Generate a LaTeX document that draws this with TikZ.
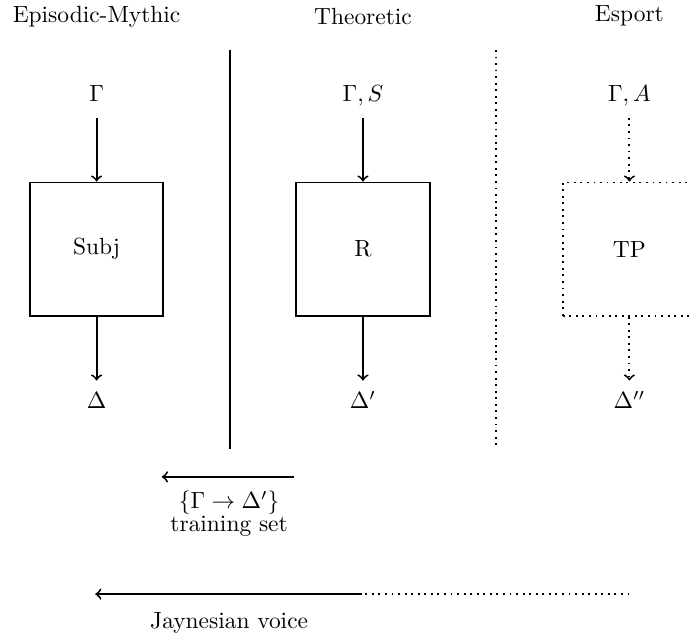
\documentclass[tikz,border=0pt]{standalone}

\begin{document}
\begin{tikzpicture}[thick,
  blk/.style={draw,minimum size=2cm},
  io/.style={anchor=base,text height=1.6ex,text depth=0.25ex},
  flowin/.style={->,shorten <=2pt},
  flowout/.style={->,shorten >=1.5pt}]
\useasboundingbox (0,0) rectangle (10.375,-9.535);
% column headings
\node (hEM) at (1.45,-0.245) {Episodic-Mythic};
\node (hTh) at (5.45,-0.245) {Theoretic};
\node (hEs) at (9.45,-0.245) {Esport};
% separators
\coordinate (sepA) at (3.45,-0.75);
\coordinate (sepB) at (3.45,-6.74);
\coordinate (sepC) at (7.45,-0.75);
\coordinate (sepD) at (7.45,-6.74);
\draw (sepA)--(sepB);
\draw[dotted] (sepC)--(sepD);
% Episodic-Mythic
\node[io] (inSubj) at (1.45,-1.53) {$\Gamma$};
\node[blk] (Subj) at (1.45,-3.74) {Subj};
\node[io] (outSubj) at (1.45,-6.14) {$\Delta$};
\draw[flowin] (inSubj)--(Subj);
\draw[flowout] (Subj)--(outSubj);
% Theoretic
\node[io] (inR) at (5.45,-1.53) {$\Gamma, S$};
\node[blk] (R) at (5.45,-3.74) {R};
\node[io] (outR) at (5.45,-6.14) {$\Delta'$};
\draw[flowin] (inR)--(R);
\draw[flowout] (R)--(outR);
% Esport
\node[io] (inTP) at (9.45,-1.53) {$\Gamma, A$};
\node[blk,dotted] (TP) at (9.45,-3.74) {TP};
\node[io] (outTP) at (9.45,-6.14) {$\Delta''$};
\draw[flowin,dotted] (inTP)--(TP);
\draw[flowout,dotted] (TP)--(outTP);
% training set
\coordinate (tsR) at (4.42,-7.16);
\coordinate (tsL) at (2.43,-7.16);
\draw[->] (tsR)--(tsL);
\node[align=center,anchor=north] (tset) at (3.44,-7.24) {$\{\Gamma\to\Delta'\}$\\[-2pt]training set};
% Jaynesian voice
\coordinate (jvR) at (9.45,-8.92);
\coordinate (jvM) at (5.44,-8.92);
\coordinate (jvL) at (1.43,-8.92);
\draw[dotted] (jvR)--(jvM);
\draw[->] (jvM)--(jvL);
\node[anchor=base] (jv) at (3.44,-9.43) {Jaynesian voice};
\end{tikzpicture}
\end{document}
